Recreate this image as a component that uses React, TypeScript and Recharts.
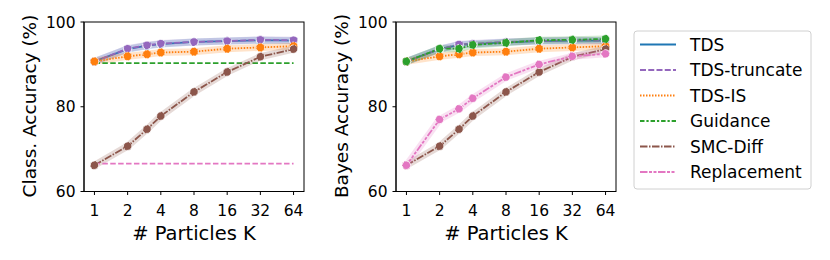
import React from "react";
import { LineChart, Line, XAxis, YAxis } from "recharts";

// particles per run (log2 axis)
const K = [1, 2, 3, 4, 8, 16, 32, 64];
const K_TICKS = [1, 2, 4, 8, 16, 32, 64];
const Y_TICKS = [60, 80, 100];

// Class. accuracy panel
const classTds = [90.7, 93.6, 94.4, 94.8, 95.3, 95.5, 95.7, 95.6];
const classTrunc = [90.7, 93.7, 94.5, 94.9, 95.3, 95.5, 95.8, 95.7];
const classIs = [90.7, 91.9, 92.4, 92.8, 93.0, 93.7, 94.0, 94.3];
const classGuidance = [90.3, 90.3, 90.3, 90.3, 90.3, 90.3, 90.3, 90.3];
const classSmc = [66.2, 70.7, 74.7, 77.8, 83.5, 88.2, 91.8, 93.6];
const classReplacement = [66.6, 66.6, 66.6, 66.6, 66.6, 66.6, 66.6, 66.6];

// Bayes accuracy panel
const bayesTds = [90.7, 93.6, 94.6, 94.8, 95.2, 95.5, 95.6, 95.6];
const bayesTrunc = [90.7, 93.6, 94.7, 94.9, 95.3, 95.5, 95.7, 95.6];
const bayesIs = [90.7, 91.9, 92.4, 92.8, 93.0, 93.7, 94.0, 94.3];
const bayesGuidance = [90.7, 93.7, 93.7, 94.6, 95.1, 95.7, 95.8, 96.0];
const bayesSmc = [66.2, 70.7, 74.7, 77.8, 83.5, 88.2, 91.8, 93.6];
const bayesReplacement = [66.2, 77.0, 79.5, 82.0, 87.0, 90.0, 91.9, 92.5];

const NAMES = ["TDS", "TDS-truncate", "TDS-IS", "Guidance", "SMC-Diff", "Replacement"];
const COLORS = ["#1f77b4", "#9467bd", "#ff7f0e", "#2ca02c", "#8c564b", "#e377c2"];
const DASHES = ["", "6 2.25", "1.5 1.5", "4.5 1.9 2.25 1.9", "7.5 1.5 1.5 1.5", "7.5 1.5 3 1.5 3 1.5"];
const HLINE_DASH = "5.5 2.4";

const FONT = "'DejaVu Sans', sans-serif";

// plot box inside each panel
const BOX = { x: 84, y: 22, w: 220, h: 169.5 };

type Series = { key: string; idx: number; flat?: boolean };

const toRows = (cols: number[][]) =>
  K.map((k, i) => {
    const row: Record<string, number> = { k };
    cols.forEach((c, j) => (row["s" + j] = c[i]));
    return row;
  });

const classRows = toRows([classTds, classTrunc, classIs, classGuidance, classSmc, classReplacement]);
const bayesRows = toRows([bayesTds, bayesTrunc, bayesIs, bayesGuidance, bayesSmc, bayesReplacement]);

const classSeries: Series[] = [
  { key: "s0", idx: 0 },
  { key: "s1", idx: 1 },
  { key: "s2", idx: 2 },
  { key: "s3", idx: 3, flat: true },
  { key: "s4", idx: 4 },
  { key: "s5", idx: 5, flat: true },
];
const bayesSeries: Series[] = [0, 1, 2, 3, 4, 5].map((i) => ({ key: "s" + i, idx: i }));

const tickStyle = { fill: "#000", fontSize: 15.5, fontFamily: FONT };

const Panel = ({ rows, series, left }: { rows: any[]; series: Series[]; left: number }) => (
  <div style={{ position: "absolute", left, top: 0 }}>
    <LineChart
      width={320}
      height={260}
      data={rows}
      margin={{ top: BOX.y, right: 320 - BOX.x - BOX.w, left: 0, bottom: 0 }}
    >
      <XAxis
        dataKey="k"
        type="number"
        scale="log"
        domain={[0.804, 79.6]}
        ticks={K_TICKS}
        allowDataOverflow
        height={260 - BOX.y - BOX.h}
        stroke="#000"
        tickSize={3.5}
        tickMargin={10}
        tick={tickStyle}
      />
      <YAxis
        domain={[60, 100]}
        ticks={Y_TICKS}
        width={BOX.x}
        stroke="#000"
        tickSize={3.5}
        tickMargin={5}
        tick={tickStyle}
        allowDataOverflow
      />
      {series.flatMap((s) => {
        const color = COLORS[s.idx];
        const out = [];
        if (!s.flat)
          out.push(
            <Line
              key={"band" + s.key}
              dataKey={s.key}
              stroke={color}
              strokeOpacity={0.22}
              strokeWidth={7}
              strokeLinejoin="round"
              dot={false}
              activeDot={false}
              isAnimationActive={false}
            />
          );
        out.push(
          <Line
            key={s.key}
            dataKey={s.key}
            stroke={color}
            strokeWidth={1.8}
            strokeDasharray={s.flat ? HLINE_DASH : DASHES[s.idx]}
            dot={s.flat ? false : { r: 4.2, fill: color, stroke: "#fff", strokeWidth: 0.8 }}
            activeDot={false}
            isAnimationActive={false}
          />
        );
        return out;
      })}
    </LineChart>
  </div>
);

const Legend = () => (
  <g>
    <rect x={634} y={31} width={177} height={158} rx={3} fill="#fff" stroke="#d0d0d0" strokeWidth={1} />
    {NAMES.map((n, i) => {
      const y = 44.5 + i * 25.5;
      return (
        <g key={n}>
          <line x1={640} x2={676} y1={y} y2={y} stroke={COLORS[i]} strokeWidth={2} strokeDasharray={DASHES[i]} />
          <text x={690} y={y + 6.2} fontSize={17} fontFamily={FONT} fill="#000">
            {n}
          </text>
        </g>
      );
    })}
  </g>
);

export default function App() {
  return (
    <div style={{ position: "absolute", left: 0, top: 0, width: 830, height: 260, background: "#fff" }}>
      <Panel rows={classRows} series={classSeries} left={0} />
      <Panel rows={bayesRows} series={bayesSeries} left={312} />
      <svg width={830} height={260} style={{ position: "absolute", left: 0, top: 0, pointerEvents: "none" }}>
        {[0, 312].map((dx) => (
          <rect key={dx} x={BOX.x + dx} y={BOX.y} width={BOX.w} height={BOX.h} fill="none" stroke="#000" strokeWidth={1} />
        ))}
        <text transform="translate(36,106) rotate(-90)" textAnchor="middle" fontSize={18.5} fontFamily={FONT} fill="#000">
          Class. Accuracy (%)
        </text>
        <text transform="translate(348,106) rotate(-90)" textAnchor="middle" fontSize={18.5} fontFamily={FONT} fill="#000">
          Bayes Accuracy (%)
        </text>
        <text x={194} y={240} textAnchor="middle" fontSize={19.5} fontFamily={FONT} fill="#000">
          # Particles K
        </text>
        <text x={506} y={240} textAnchor="middle" fontSize={19.5} fontFamily={FONT} fill="#000">
          # Particles K
        </text>
        <Legend />
      </svg>
    </div>
  );
}
